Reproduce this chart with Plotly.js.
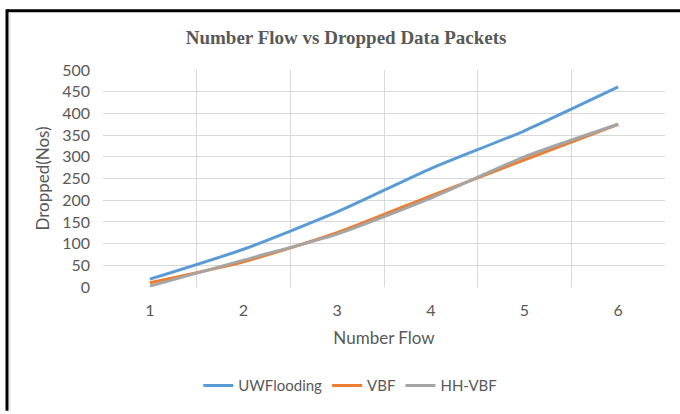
<!DOCTYPE html>
<html>
<head>
<meta charset="utf-8">
<script src="https://cdn.plot.ly/plotly-3.0.1.min.js"></script>
<style>html,body{margin:0;padding:0;background:#fff;}#chart{width:680px;height:414px;}</style>
</head>
<body>
<div id="chart"></div>
<script>
const categories = ['1', '2', '3', '4', '5', '6'];
const uwFlooding = [18, 87, 173, 273, 360, 461];
const vbf = [10, 58, 125, 210, 293, 375];
const hhVbf = [2, 62, 122, 205, 300, 375];
const yTicks = [0, 50, 100, 150, 200, 250, 300, 350, 400, 450, 500];

const mk = (name, y, color) => ({
  type: 'scatter', mode: 'lines', name: name, x: categories, y: y,
  line: {color: color, width: 3, shape: 'spline', smoothing: 0.6}
});

const data = [
  mk('UWFlooding', uwFlooding, '#5B9BD5'),
  mk('VBF', vbf, '#ED7D31'),
  mk('HH-VBF', hhVbf, '#A5A5A5')
];

const fam = 'Lato, "Open Sans", sans-serif';
const tickFont = {family: fam, size: 16, color: '#595959'};
const titleFont = {family: fam, size: 17, color: '#595959'};

const layout = {
  width: 680, height: 414,
  margin: {l: 103, r: 15, t: 70, b: 124},
  paper_bgcolor: '#fff', plot_bgcolor: '#fff',
  showlegend: true,
  title: {
    text: 'Number Flow vs Dropped Data Packets',
    font: {family: '"Liberation Serif", "Times New Roman", serif', size: 19, color: '#595959', weight: 'bold'},
    x: 0.509, xanchor: 'center', y: 0.91, yanchor: 'middle'
  },
  xaxis: {
    type: 'category', tickson: 'boundaries', ticks: '', showgrid: true,
    gridcolor: '#d9d9d9', gridwidth: 1, showline: false, zeroline: false,
    tickfont: tickFont, range: [-0.5, 5.5], automargin: false, ticklabelstandoff: 12,
    title: {text: 'Number Flow', font: titleFont, standoff: 14}
  },
  yaxis: {
    range: [0, 500], tickvals: yTicks, ticktext: yTicks.map(String),
    showgrid: true, gridcolor: '#d9d9d9', gridwidth: 1, zeroline: false, showline: false,
    tickfont: tickFont, ticks: '', automargin: false, ticklabelstandoff: 12,
    title: {text: 'Dropped(Nos)', font: titleFont, standoff: 8}
  },
  legend: {
    orientation: 'h', x: 0.44, xanchor: 'center', y: -0.4545, yanchor: 'middle',
    font: {family: fam, size: 15, color: '#595959'}, traceorder: 'normal'
  },
  shapes: [
    {type: 'line', xref: 'paper', yref: 'paper', x0: -0.1708, x1: 1.03, y0: 1.2727, y1: 1.2727, line: {color: '#000', width: 3}},
    {type: 'line', xref: 'paper', yref: 'paper', x0: -0.1708, x1: -0.1708, y0: 1.2795, y1: -0.57, line: {color: '#000', width: 3}},
    {type: 'line', xref: 'paper', yref: 'paper', x0: -0.1655, x1: -0.1655, y0: 1.266, y1: -0.57, line: {color: '#d9d9d9', width: 1}}
  ]
};

Plotly.newPlot('chart', data, layout, {displayModeBar: false, staticPlot: true});
</script>
</body>
</html>
